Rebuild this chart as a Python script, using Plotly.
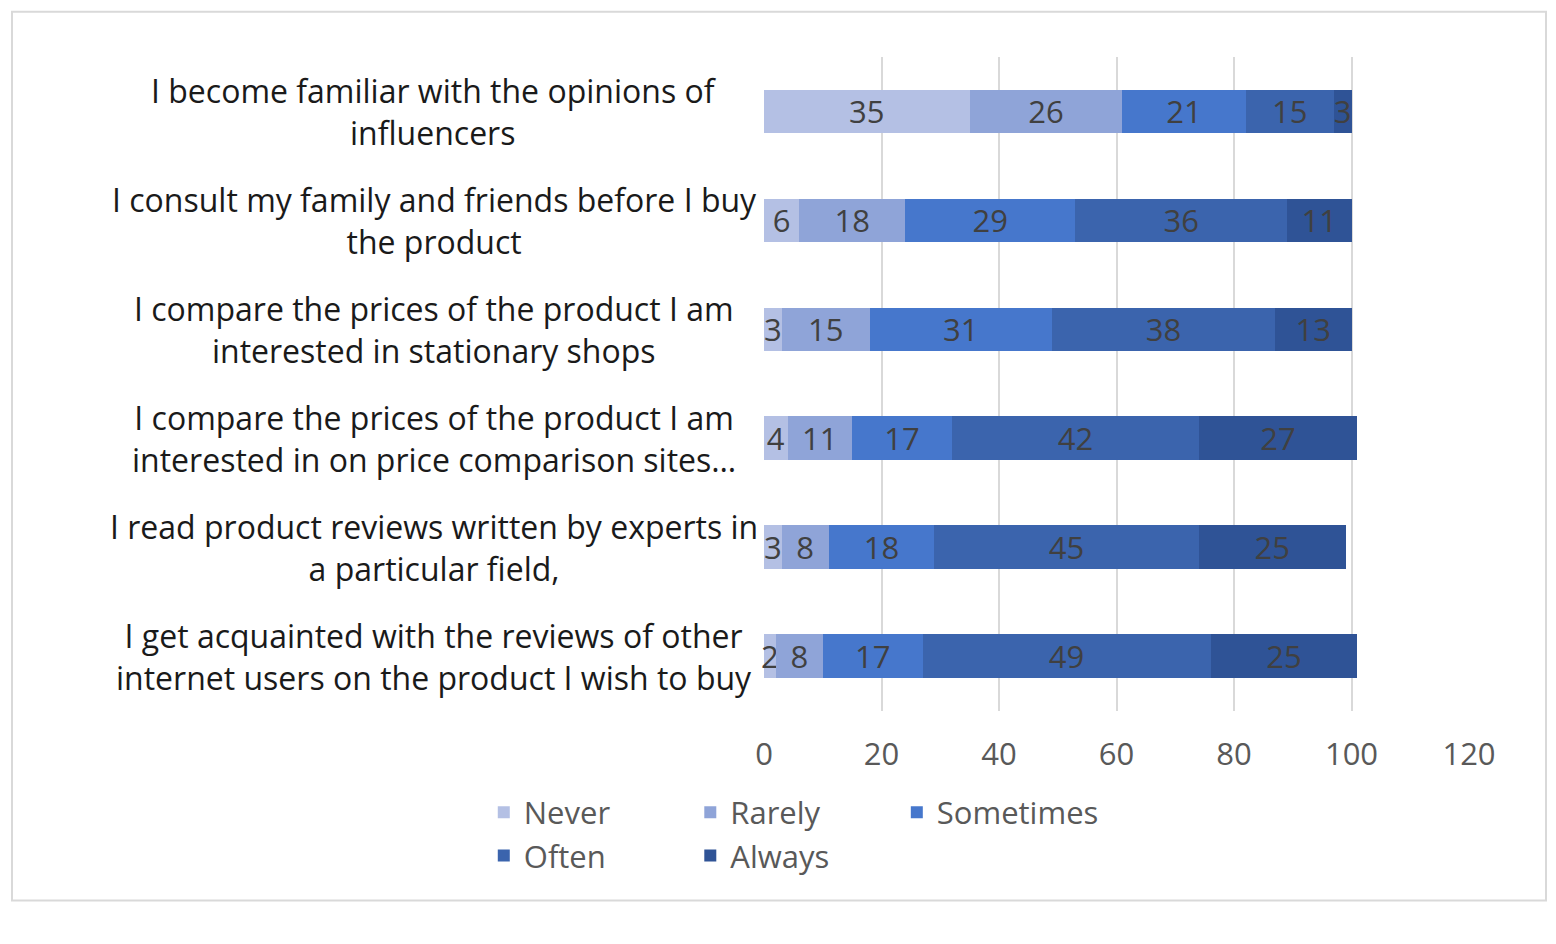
import plotly.graph_objects as go

categories = [
    "I become familiar with the opinions of<br>influencers",
    "I consult my family and friends before I buy<br>the product",
    "I compare the prices of the product I am<br>interested in stationary shops",
    "I compare the prices of the product I am<br>interested in on price comparison sites…",
    "I read product reviews written by experts in<br>a particular field,",
    "I get acquainted with the reviews of other<br>internet users on the product I wish to buy",
]
never = [35, 6, 3, 4, 3, 2]
rarely = [26, 18, 15, 11, 8, 8]
sometimes = [21, 29, 31, 17, 18, 17]
often = [15, 36, 38, 42, 45, 49]
always = [3, 11, 13, 27, 25, 25]
series = [("Never", never, "#b4c0e4"), ("Rarely", rarely, "#8fa4d8"),
          ("Sometimes", sometimes, "#4677cc"), ("Often", often, "#3b64ad"),
          ("Always", always, "#2f5396")]

FONT = "Open Sans"
L, R, T, B = 756, 95, 49, 217
PW, PH = 1556 - L - R, 944 - T - B
fig = go.Figure()
for name, vals, col in series:
    fig.add_trace(go.Bar(
        y=categories, x=vals, name=name, orientation="h", marker_color=col,
        marker_line_width=0, text=vals, textposition="inside",
        insidetextanchor="middle", textangle=0,
        textfont=dict(family=FONT, size=31, color="#404040"),
        cliponaxis=False, width=0.4))

for c in categories:
    fig.add_annotation(x=(426 - L) / PW, xref="paper", y=c, yref="y", text=c,
                       showarrow=False, xanchor="center", align="center",
                       font=dict(family=FONT, size=32, color="#1a1a1a"))

fig.add_shape(type="rect", xref="paper", yref="paper",
              x0=(4 - L) / PW, x1=(1538 - L) / PW,
              y0=-(924 - T - PH) / PH, y1=1 + (T - 2) / PH,
              line=dict(color="#d9d9d9", width=2))

fig.update_layout(
    barmode="stack", width=1556, height=944,
    margin=dict(l=L, r=R, t=T, b=B),
    paper_bgcolor="white", plot_bgcolor="white",
    uniformtext=dict(mode="show", minsize=31),
    legend=dict(orientation="h", xref="container", x=0.505, xanchor="center",
                yref="container", y=0.125, yanchor="middle",
                font=dict(family=FONT, size=31, color="#595959"),
                traceorder="normal", itemwidth=30, entrywidthmode="pixels",
                entrywidth=0),
    xaxis=dict(range=[0, 120], dtick=20, showgrid=True, gridcolor="#d9d9d9",
               gridwidth=2, zeroline=False, showline=False,
               tickfont=dict(family=FONT, size=31, color="#595959"),
               ticks="", ticklabelstandoff=22, tickformat="d"),
    yaxis=dict(autorange="reversed", showticklabels=False, showgrid=False,
               zeroline=False),
)
fig.write_html("out.html")
